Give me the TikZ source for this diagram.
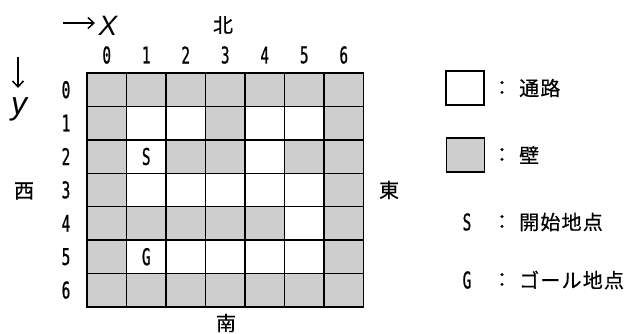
\documentclass[tikz,border=0pt]{standalone}
\usepackage{fontspec}
\usetikzlibrary{arrows.meta}
\newfontfamily\jpfont[FakeBold=0.5]{Noto Sans CJK JP}
\newfontfamily\jplfont[LetterSpace=6,FakeBold=0.5]{Noto Sans CJK JP}
\newfontfamily\monofont[FakeStretch=0.62,FakeBold=1]{DejaVu Sans Mono}
\newfontfamily\axfont{Liberation Sans}
\definecolor{wallgray}{RGB}{206,206,206}
\begin{document}
\begin{tikzpicture}[x=1pt,y=-1pt,
  cell/.style={draw=black, line width=1.4pt, minimum width=39.5pt, minimum height=33.4pt, inner sep=0pt, outer sep=0pt},
  num/.style={font=\monofont\fontsize{23}{23}\selectfont, inner sep=0pt},
  jp/.style={font=\jpfont\fontsize{20}{20}\selectfont, inner sep=0pt},
  jpl/.style={font=\jplfont\fontsize{20}{20}\selectfont, inner sep=0pt, anchor=west},
  axis/.style={font=\axfont\itshape, inner sep=0pt},
  axarrow/.style={line width=1.5pt, -{Straight Barb[length=6pt,width=11pt]}}]
\useasboundingbox (0,0) rectangle (629,333);
% grid
\foreach \r/\row in {0/{1,1,1,1,1,1,1},1/{1,0,0,1,0,0,1},2/{1,0,1,1,0,1,1},3/{1,0,0,0,0,0,1},4/{1,1,1,1,1,0,1},5/{1,0,0,0,0,0,1},6/{1,1,1,1,1,1,1}}{
  \foreach \v [count=\c from 0] in \row {
    \ifnum\v=1 \def\fc{wallgray}\else\def\fc{white}\fi
    \node[cell, fill=\fc] (c\c-\r) at ({106.75+39.5*\c},{89.7+33.4*\r}) {};
  }
}
% labels
\foreach \c in {0,...,6}{
  \node[num] (cx\c) at ({106.75+39.5*\c},55) {\c};
  \node[num] (ry\c) at (66,{89.7+33.4*\c}) {\c};
}
\node[num] (sS) at (c1-2) {S};
\node[num] (sG) at (c1-5) {G};
% axes
\coordinate (xa) at (63,23);
\coordinate (xb) at (95,23);
\draw[axarrow] (xa) -- (xb);
\node[axis, font=\axfont\itshape\fontsize{28}{28}\selectfont] (xl) at (108,26) {X};
\coordinate (ya) at (18,57);
\coordinate (yb) at (18,88);
\draw[axarrow] (ya) -- (yb);
\node[axis, font=\axfont\itshape\fontsize{32}{32}\selectfont] (yl) at (19,109.5) {y};
% compass
\node[jp] (north) at (223,25) {北};
\node[jp] (west) at (24,191) {西};
\node[jp] (east) at (389,190) {東};
\node[jp] (south) at (226,323) {南};
% legend
\node[cell, fill=white, minimum width=38pt, minimum height=34pt] (lw) at (465,88) {};
\node[cell, fill=wallgray, minimum width=38pt, minimum height=34pt] (lg) at (465.5,155) {};
\node[num] (lS) at (467,222) {S};
\node[num] (lG) at (467,280) {G};
\foreach \y [count=\i] in {88,155,222,280}{
  \node[jp] (col\i) at (502,\y) {：};
}
\node[jpl] (t1) at (519,88) {通路};
\node[jpl] (t2) at (519,155) {壁};
\node[jpl] (t3) at (519,222) {開始地点};
\node[jpl] (t4) at (519,280) {ゴール地点};
\end{tikzpicture}
\end{document}
